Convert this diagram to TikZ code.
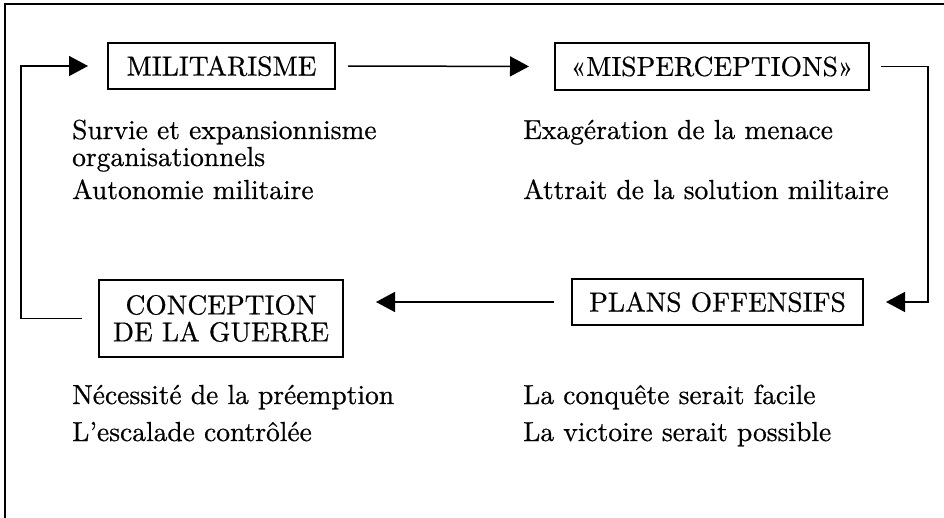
\documentclass[tikz,border=0pt]{standalone}
\usepackage{fontspec}
\setmainfont{lmroman10-regular.otf}[FakeBold=0.6]
\usetikzlibrary{arrows.meta}
\begin{document}
\begin{tikzpicture}[x=1pt,y=-1pt,
  lab/.style={font=\fontsize{27.5}{27}\selectfont},
  box/.style={lab, draw, line width=2pt, inner sep=0pt, align=center},
  body/.style={lab, anchor=base west, inner sep=0pt},
  conn/.style={line width=1.5pt},
  arr/.style={conn, -{Triangle[length=19pt,width=20pt]}},
  frame/.style={line width=2.4pt}]
\useasboundingbox (0,0) rectangle (944,518);
\draw[frame] (5,518) -- (5,4) -- (944,4);
% boxes
\node[box, minimum width=227pt, minimum height=46pt] (mil) at (221.5,66) {MILITARISME};
\node[box, minimum width=314pt, minimum height=47pt] (mis) at (712,66.5) {«MISPERCEPTIONS»};
\node[box, minimum width=291pt, minimum height=46pt] (pla) at (717.5,302) {PLANS OFFENSIFS};
\node[box, minimum width=244pt, minimum height=77pt] (con) at (221,318.5) {CONCEPTION\\DE LA GUERRE};
% body texts
\node[body] (t1) at (72,139) {Survie et expansionnisme};
\node[body] (t2) at (72,166) {organisationnels};
\node[body] (t3) at (72,199) {Autonomie militaire};
\node[body] (t4) at (523,139) {Exagération de la menace};
\node[body] (t5) at (523,199) {Attrait de la solution militaire};
\node[body] (t6) at (72,404) {Nécessité de la préemption};
\node[body] (t7) at (72,441) {L'escalade contrôlée};
\node[body] (t8) at (523,404) {La conquête serait facile};
\node[body] (t9) at (523,441) {La victoire serait possible};
% connectors
\draw[arr, shorten <=12pt, shorten >=25pt] (mil.east) -- (mis.west);
\draw[arr, shorten <=11pt, shorten >=22pt] (mis.east) -- ++(58,0) |- (pla.east);
\draw[arr, shorten <=17pt, shorten >=32pt] (pla.west) -- (pla.west -| con.east);
\draw[arr, shorten <=16pt, shorten >=19pt] (con.west) -- ++(-77,0) |- (mil.west);
\end{tikzpicture}
\end{document}
